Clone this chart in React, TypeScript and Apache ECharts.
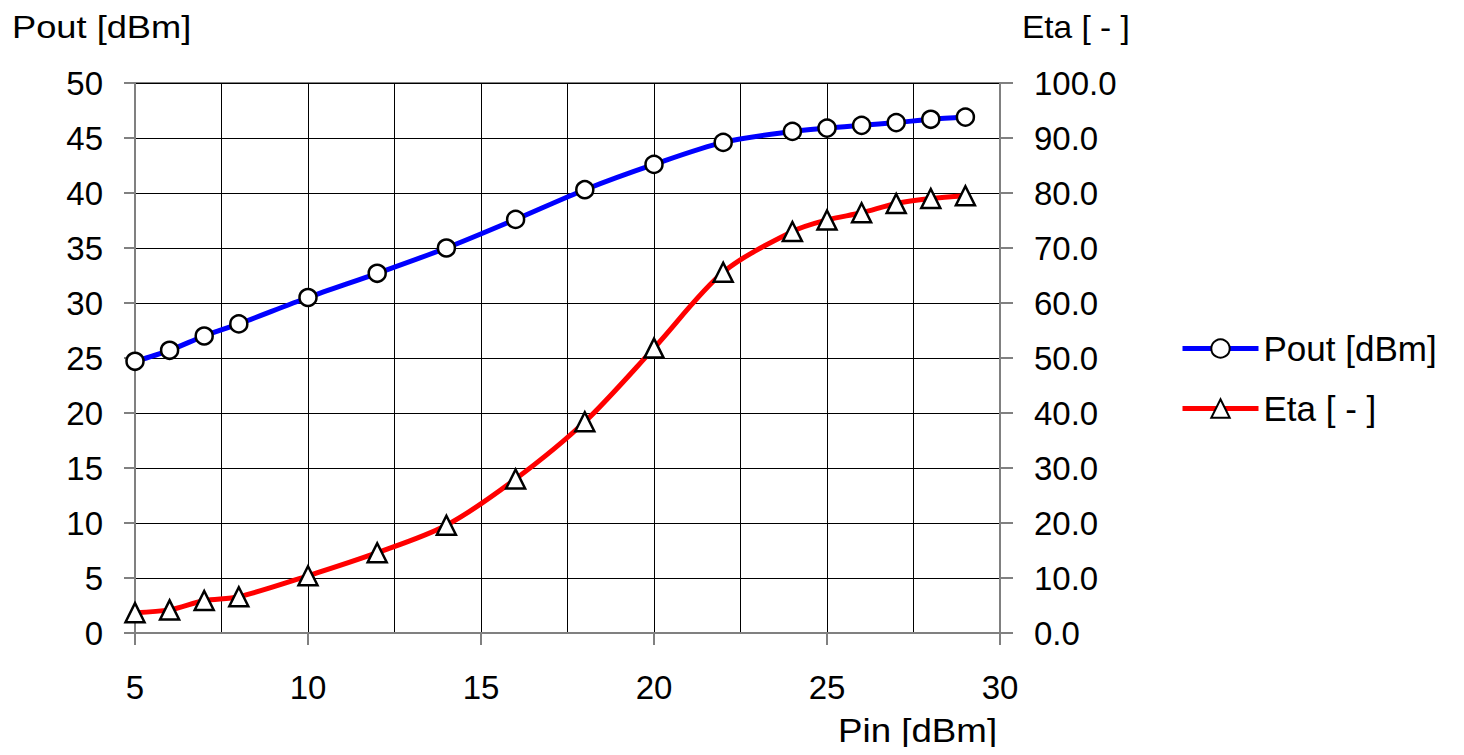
import React, { useEffect, useRef } from "react";
import * as echarts from "echarts";

const pin = [5, 6, 7, 8, 10, 12, 14, 16, 18, 20, 22, 24, 25, 26, 27, 28, 29];
const pout = [24.7, 25.7, 27.0, 28.1, 30.5, 32.7, 35.0, 37.6, 40.3, 42.6, 44.6, 45.6, 45.9, 46.15, 46.4, 46.7, 46.9];
const eta = [3.7, 4.2, 5.9, 6.6, 10.4, 14.6, 19.6, 28.0, 38.4, 51.8, 65.6, 73.0, 75.1, 76.4, 78.1, 79.0, 79.5];

const FONT = "'Liberation Sans', Arial, sans-serif";

export default function App() {
  const ref = useRef<HTMLDivElement>(null);
  useEffect(() => {
    const chart = echarts.init(ref.current!, null, { renderer: "svg" });
    chart.setOption({
      animation: false,
      textStyle: { fontFamily: FONT },
      grid: { left: 135, right: 464, top: 83, bottom: 122, show: true, borderColor: "#808080", borderWidth: 2 },
      legend: {
        orient: "vertical",
        left: 1175,
        top: 326,
        itemWidth: 76,
        itemHeight: 23,
        itemGap: 25,
        lineStyle: { width: 5 },
        textStyle: { fontSize: 35, color: "#000", fontFamily: FONT },
        data: ["Pout [dBm]", "Eta [ - ]"],
      },
      graphic: [
        { type: "text", x: 12, y: 27, scaleX: 1.17, style: { text: "Pout [dBm]", fontSize: 31, fill: "#000", fontFamily: FONT, verticalAlign: "middle" } },
        { type: "text", x: 1022, y: 27, scaleX: 1.08, style: { text: "Eta [ - ]", fontSize: 31, fill: "#000", fontFamily: FONT, verticalAlign: "middle" } },
        { type: "text", x: 838, y: 730, scaleX: 1.08, style: { text: "Pin [dBm]", fontSize: 34, fill: "#000", fontFamily: FONT, verticalAlign: "middle" } },
      ],
      xAxis: {
        type: "value",
        min: 5,
        max: 30,
        interval: 5,
        axisLine: { show: true, lineStyle: { color: "#808080", width: 2 } },
        axisTick: { show: true, length: 12, lineStyle: { color: "#808080", width: 2 } },
        axisLabel: { fontSize: 33, color: "#000", margin: 38, fontFamily: FONT },
        splitLine: { show: true, lineStyle: { color: "#000", width: 1 } },
        minorTick: { show: false, splitNumber: 2 },
        minorSplitLine: { show: true, lineStyle: { color: "#000", width: 1 } },
      },
      yAxis: [
        {
          type: "value",
          min: 0,
          max: 50,
          interval: 5,
          axisLine: { show: true, lineStyle: { color: "#808080", width: 2 } },
          axisTick: { show: true, length: 11, lineStyle: { color: "#808080", width: 2 } },
          axisLabel: { fontSize: 33, color: "#000", margin: 32, fontFamily: FONT },
          splitLine: { show: true, lineStyle: { color: "#000", width: 1 } },
        },
        {
          type: "value",
          min: 0,
          max: 100,
          interval: 10,
          position: "right",
          axisLine: { show: true, lineStyle: { color: "#808080", width: 2 } },
          axisTick: { show: true, length: 13, lineStyle: { color: "#808080", width: 2 } },
          axisLabel: {
            fontSize: 33,
            color: "#000",
            margin: 34,
            fontFamily: FONT,
            formatter: (v: number) => v.toFixed(1),
          },
          splitLine: { show: false },
        },
      ],
      series: [
        {
          name: "Pout [dBm]",
          type: "line",
          yAxisIndex: 0,
          data: pin.map((x, i) => [x, pout[i]]),
          smooth: 0.3,
          symbol: "circle",
          symbolSize: 17,
          lineStyle: { color: "#0000FF", width: 5 },
          itemStyle: { color: "#FFFFFF", borderColor: "#000", borderWidth: 2.5 },
          z: 3,
        },
        {
          name: "Eta [ - ]",
          type: "line",
          yAxisIndex: 1,
          data: pin.map((x, i) => [x, eta[i]]),
          smooth: 0.3,
          symbol: "triangle",
          symbolSize: 19,
          lineStyle: { color: "#FF0000", width: 5 },
          itemStyle: { color: "#FFFFFF", borderColor: "#000", borderWidth: 2.5 },
          z: 3,
        },
      ],
    });
    return () => chart.dispose();
  }, []);
  return <div ref={ref} style={{ width: 1464, height: 755, margin: -8 }} />;
}
